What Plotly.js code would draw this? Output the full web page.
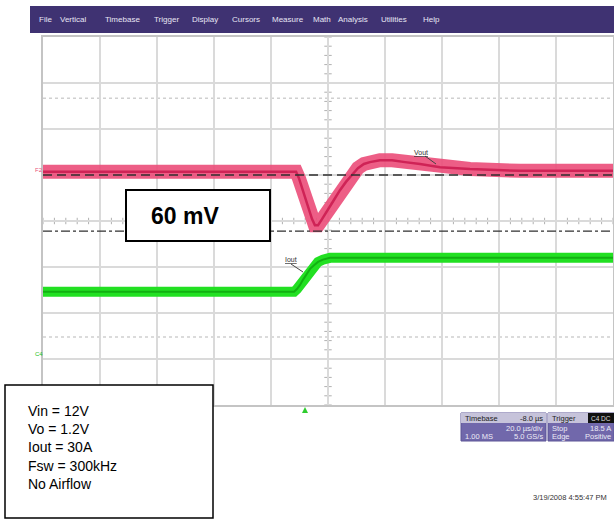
<!DOCTYPE html>
<html>
<head>
<meta charset="utf-8">
<script src="https://cdn.plot.ly/plotly-3.0.1.min.js"></script>
<style>
html,body{margin:0;padding:0;background:#fff;}
#chart{width:614px;height:523px;}
</style>
</head>
<body>
<div id="chart"></div>
<script>
// ---- data (time in µs, amplitude in screen divisions) ----
const voutTime = [-100, -11.2, -10.2, -9.1, -7.7, -6.7, -5.6, -4.6, -3.5, -2.1, -0.4, 1.8, 4.2, 6.3, 8.4, 10.5, 12.6, 14.7, 18.2, 22.5, 27.0, 32.3, 39.3, 49.8, 67.4, 100];
const voutDiv  = [1.07, 1.07, 0.93, 0.72, 0.46, 0.24, 0.04, -0.09, -0.09, 0.04, 0.22, 0.43, 0.67, 0.85, 1.00, 1.15, 1.24, 1.28, 1.32, 1.32, 1.28, 1.24, 1.17, 1.13, 1.09, 1.09];
const ioutTime = [-100, -11.9, -10.9, -9.8, -8.8, -7.7, -6.3, -4.9, -3.5, -1.8, 0.7, 100];
const ioutDiv  = [-1.54, -1.54, -1.48, -1.39, -1.28, -1.17, -1.04, -0.96, -0.89, -0.84, -0.80, -0.80];
const refDashed = 1.0;      // nominal Vout cursor
const refDashDot = -0.22;   // undershoot cursor (60 mV)
const dottedLevels = [2.67, -2.52];
const menuItems = ["File","Vertical","Timebase","Trigger","Display","Cursors","Measure","Math","Analysis","Utilities","Help"];
const menuPx = [37, 58, 103, 152, 190, 230, 270, 311, 336, 379, 421];
const infoLines = ["Vin = 12V","Vo = 1.2V","Iout = 30A","Fsw = 300kHz","No Airflow"];
const deltaLabel = "60 mV";
const dateText = "3/19/2008 4:55:47 PM";

// ---- layout helpers (pixel -> paper) ----
const L = 43, T = 37, W = 570, H = 368;
const X = px => (px - L) / W;
const Y = py => (T + H - py) / H;

const traces = [
  {x: voutTime, y: voutDiv, mode: 'lines', line: {color: 'rgba(236,80,124,0.92)', width: 14, shape: 'linear'}, hoverinfo: 'skip'},
  {x: voutTime, y: voutDiv, mode: 'lines', line: {color: '#cf2356', width: 2.5, shape: 'linear'}, hoverinfo: 'skip'},
  {x: ioutTime, y: ioutDiv, mode: 'lines', line: {color: '#22e022', width: 10, shape: 'linear'}, hoverinfo: 'skip'},
  {x: ioutTime, y: ioutDiv, mode: 'lines', line: {color: '#12b012', width: 2, shape: 'linear'}, hoverinfo: 'skip'}
];

const shapes = [];
// menu bar
shapes.push({type: 'rect', xref: 'paper', yref: 'paper', x0: X(30), x1: X(614), y0: Y(33), y1: Y(6), fillcolor: '#3f3272', line: {width: 0}, layer: 'above'});
// center cross minor ticks
shapes.push({type: 'line', xref: 'x', yref: 'y', x0: 0, x1: 0, y0: -4, y1: 4, line: {color: '#b8b8b8', width: 1.2}, layer: 'below'});
shapes.push({type: 'line', xref: 'x', yref: 'y', x0: -100, x1: 100, y0: 0, y1: 0, line: {color: '#b8b8b8', width: 1.2}, layer: 'below'});
for (let i = -20; i <= 20; i++) {
  shapes.push({type: 'line', xref: 'x', yref: 'y', x0: -1.3, x1: 1.3, y0: i * 0.2, y1: i * 0.2, line: {color: '#b0b0b0', width: 1}, layer: 'below'});
}
for (let i = -25; i <= 25; i++) {
  shapes.push({type: 'line', xref: 'x', yref: 'y', x0: i * 4, x1: i * 4, y0: -0.07, y1: 0.07, line: {color: '#b0b0b0', width: 1}, layer: 'below'});
}
dottedLevels.forEach(v => shapes.push({type: 'line', xref: 'x', yref: 'y', x0: -100, x1: 100, y0: v, y1: v, line: {color: '#d0d0d0', width: 1.5, dash: 'dot'}, layer: 'below'}));
// cursors
shapes.push({type: 'line', xref: 'x', yref: 'y', x0: -100, x1: 100, y0: refDashed, y1: refDashed, line: {color: '#303030', width: 1.3, dash: '9px,5px'}});
shapes.push({type: 'line', xref: 'x', yref: 'y', x0: -100, x1: 100, y0: refDashDot, y1: refDashDot, line: {color: '#303030', width: 1.3, dash: 'dashdot'}});
// 60 mV box
shapes.push({type: 'rect', xref: 'paper', yref: 'paper', x0: X(126), x1: X(270), y0: Y(241), y1: Y(190), fillcolor: '#ffffff', line: {color: '#000', width: 2}, layer: 'above'});
// info box
shapes.push({type: 'rect', xref: 'paper', yref: 'paper', x0: X(5), x1: X(213), y0: Y(518), y1: Y(385), fillcolor: '#ffffff', line: {color: '#000', width: 1.5}, layer: 'above'});
// status panels
shapes.push({type: 'rect', xref: 'paper', yref: 'paper', x0: X(461), x1: X(546), y0: Y(441), y1: Y(413), fillcolor: '#7168ab', line: {color: '#5d5496', width: 1}, layer: 'above'});
shapes.push({type: 'rect', xref: 'paper', yref: 'paper', x0: X(461), x1: X(546), y0: Y(423), y1: Y(413), fillcolor: '#c6c3da', line: {width: 0}, layer: 'above'});
shapes.push({type: 'rect', xref: 'paper', yref: 'paper', x0: X(548), x1: X(614), y0: Y(441), y1: Y(413), fillcolor: '#7168ab', line: {color: '#5d5496', width: 1}, layer: 'above'});
shapes.push({type: 'rect', xref: 'paper', yref: 'paper', x0: X(548), x1: X(588), y0: Y(423), y1: Y(413), fillcolor: '#c6c3da', line: {width: 0}, layer: 'above'});
shapes.push({type: 'rect', xref: 'paper', yref: 'paper', x0: X(588), x1: X(614), y0: Y(423), y1: Y(413), fillcolor: '#111', line: {width: 0}, layer: 'above'});
// trigger marker
shapes.push({type: 'path', xref: 'paper', yref: 'paper', path: `M ${X(302)} ${Y(413)} L ${X(308)} ${Y(413)} L ${X(305)} ${Y(407)} Z`, fillcolor: '#2ecc2e', line: {width: 0}});
// leader lines
shapes.push({type: 'line', xref: 'paper', yref: 'paper', x0: X(425), x1: X(436), y0: Y(156), y1: Y(164), line: {color: '#444', width: 1}});
shapes.push({type: 'line', xref: 'paper', yref: 'paper', x0: X(291), x1: X(303), y0: Y(264), y1: Y(272), line: {color: '#444', width: 1}});

const annotations = [];
menuItems.forEach((m, i) => annotations.push({xref: 'paper', yref: 'paper', x: X(menuPx[i]), y: Y(20), xanchor: 'left', yanchor: 'middle', text: m, showarrow: false, font: {family: 'Liberation Sans, Arial', size: 8, color: '#e8e6f4'}}));
annotations.push({xref: 'paper', yref: 'paper', x: X(185), y: Y(216), xanchor: 'center', yanchor: 'middle', text: '<b>' + deltaLabel + '</b>', showarrow: false, font: {family: 'Liberation Sans, Arial', size: 23, color: '#000'}});
annotations.push({xref: 'paper', yref: 'paper', x: X(26), y: Y(401), xanchor: 'left', yanchor: 'top', align: 'left', text: infoLines.join('<br>'), showarrow: false, font: {family: 'Liberation Sans, Arial', size: 14, color: '#000'}});
annotations.push({xref: 'paper', yref: 'paper', x: X(412), y: Y(152), xanchor: 'left', yanchor: 'middle', text: '<u>Vout</u>', showarrow: false, font: {family: 'Liberation Sans, Arial', size: 7, color: '#333'}});
annotations.push({xref: 'paper', yref: 'paper', x: X(283), y: Y(259), xanchor: 'left', yanchor: 'middle', text: '<u>Iout</u>', showarrow: false, font: {family: 'Liberation Sans, Arial', size: 7, color: '#333'}});
annotations.push({xref: 'paper', yref: 'paper', x: X(33), y: Y(170), xanchor: 'left', yanchor: 'middle', text: 'F2', showarrow: false, font: {family: 'Liberation Sans, Arial', size: 6, color: '#e8507a'}});
annotations.push({xref: 'paper', yref: 'paper', x: X(33), y: Y(354), xanchor: 'left', yanchor: 'middle', text: 'C4', showarrow: false, font: {family: 'Liberation Sans, Arial', size: 6, color: '#22c022'}});
// panels text
const pf = c => ({family: 'Liberation Sans, Arial', size: 7.5, color: c});
annotations.push({xref: 'paper', yref: 'paper', x: X(463), y: Y(418), xanchor: 'left', yanchor: 'middle', text: 'Timebase', showarrow: false, font: pf('#222')});
annotations.push({xref: 'paper', yref: 'paper', x: X(545), y: Y(418), xanchor: 'right', yanchor: 'middle', text: '-8.0 µs', showarrow: false, font: pf('#222')});
annotations.push({xref: 'paper', yref: 'paper', x: X(545), y: Y(428), xanchor: 'right', yanchor: 'middle', text: '20.0 µs/div', showarrow: false, font: pf('#ecebf6')});
annotations.push({xref: 'paper', yref: 'paper', x: X(463), y: Y(436), xanchor: 'left', yanchor: 'middle', text: '1.00 MS', showarrow: false, font: pf('#ecebf6')});
annotations.push({xref: 'paper', yref: 'paper', x: X(545), y: Y(436), xanchor: 'right', yanchor: 'middle', text: '5.0 GS/s', showarrow: false, font: pf('#ecebf6')});
annotations.push({xref: 'paper', yref: 'paper', x: X(550), y: Y(418), xanchor: 'left', yanchor: 'middle', text: 'Trigger', showarrow: false, font: pf('#222')});
annotations.push({xref: 'paper', yref: 'paper', x: X(589), y: Y(418), xanchor: 'left', yanchor: 'middle', text: 'C4 DC', showarrow: false, font: {family: 'Liberation Sans, Arial', size: 6.5, color: '#ddd'}});
annotations.push({xref: 'paper', yref: 'paper', x: X(550), y: Y(428), xanchor: 'left', yanchor: 'middle', text: 'Stop', showarrow: false, font: pf('#ecebf6')});
annotations.push({xref: 'paper', yref: 'paper', x: X(613), y: Y(428), xanchor: 'right', yanchor: 'middle', text: '18.5 A', showarrow: false, font: pf('#ecebf6')});
annotations.push({xref: 'paper', yref: 'paper', x: X(550), y: Y(436), xanchor: 'left', yanchor: 'middle', text: 'Edge', showarrow: false, font: pf('#ecebf6')});
annotations.push({xref: 'paper', yref: 'paper', x: X(613), y: Y(436), xanchor: 'right', yanchor: 'middle', text: 'Positive', showarrow: false, font: pf('#ecebf6')});
annotations.push({xref: 'paper', yref: 'paper', x: X(609), y: Y(497), xanchor: 'right', yanchor: 'middle', text: dateText, showarrow: false, font: {family: 'Liberation Sans, Arial', size: 7.5, color: '#333'}});

const layout = {
  width: 614, height: 523,
  margin: {l: L, r: 614 - L - W, t: T, b: 523 - T - H, pad: 0},
  paper_bgcolor: '#ffffff', plot_bgcolor: '#ffffff',
  showlegend: false,
  xaxis: {range: [-100, 100], dtick: 20, tick0: -100, showgrid: true, gridcolor: '#dadada', gridwidth: 1.3, zeroline: false, showticklabels: false, ticks: '', showline: true, mirror: true, linecolor: '#c4c4c4', linewidth: 2, fixedrange: true},
  yaxis: {range: [-4, 4], dtick: 1, tick0: -4, showgrid: true, gridcolor: '#dadada', gridwidth: 1.3, zeroline: false, showticklabels: false, ticks: '', showline: true, mirror: true, linecolor: '#c4c4c4', linewidth: 2, fixedrange: true},
  shapes: shapes,
  annotations: annotations
};

Plotly.newPlot('chart', traces, layout, {staticPlot: true, displayModeBar: false});
</script>
</body>
</html>
